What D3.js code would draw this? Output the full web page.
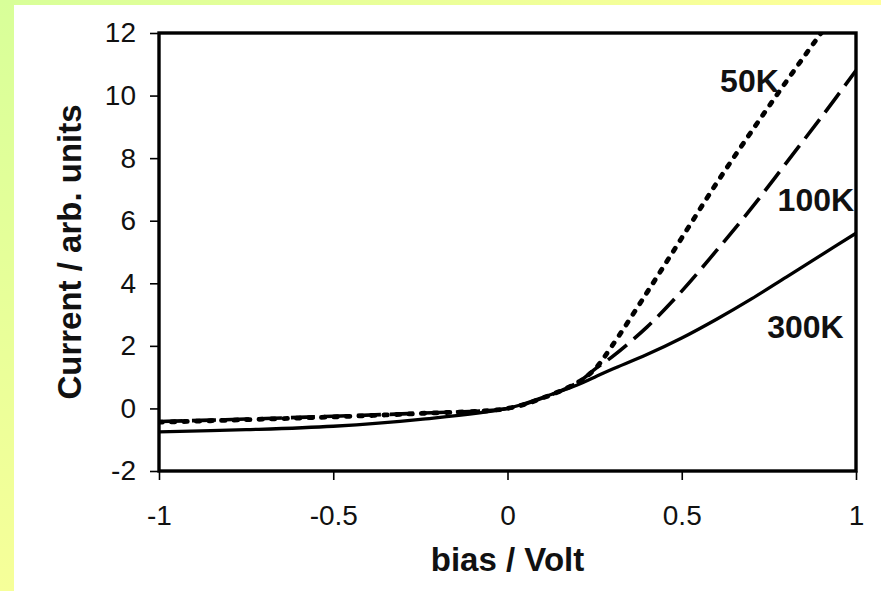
<!DOCTYPE html>
<html>
<head>
<meta charset="utf-8">
<script src="https://cdn.jsdelivr.net/npm/d3@7"></script>
<style>
  html, body { margin: 0; padding: 0; background: #fff; }
  #chart { width: 881px; height: 591px; }
</style>
</head>
<body>
<div id="chart"></div>
<script>
// bias values (Volt)
var bias = [-1, -0.75, -0.5, -0.25, 0, 0.1, 0.2, 0.25, 0.3, 0.4, 0.5, 0.6, 0.7, 0.8, 0.9, 1.0];
// current, arb. units
var i300K = [-0.75, -0.68, -0.57, -0.35, 0, 0.35, 0.75, 1.0, 1.25, 1.72, 2.25, 2.85, 3.5, 4.2, 4.9, 5.6];
var i100K = [-0.42, -0.34, -0.25, -0.15, 0, 0.33, 0.82, 1.25, 1.65, 2.6, 3.75, 5.05, 6.4, 7.85, 9.3, 10.8];
var i50K  = [-0.44, -0.36, -0.27, -0.16, 0, 0.33, 0.82, 1.25, 2.0, 3.7, 5.45, 7.2, 8.85, 10.45, 12.0, 13.5];

var xTicks = [-1, -0.5, 0, 0.5, 1];
var yTicks = [-2, 0, 2, 4, 6, 8, 10, 12];

var series = [
    {name: "50K", values: i50K, dash: "3.5,9", width: 4.8, cap: "round", label: [0.61, 10.1]},
    {name: "100K", values: i100K, dash: "24,9", width: 3.6, cap: "butt", label: [0.775, 6.3]},
    {name: "300K", values: i300K, dash: null, width: 3.3, cap: "butt", label: [0.745, 2.25]}
];

var width = 881, height = 591;
var margin = {left: 159, right: 25, top: 33, bottom: 120};

var svg = d3.select("#chart").append("svg")
    .attr("width", width)
    .attr("height", height);

// yellow-green frame on top and left
var defs = svg.append("defs");
var gTop = defs.append("linearGradient").attr("id", "gTop").attr("x1", "0").attr("x2", "1").attr("y1", "0").attr("y2", "0");
gTop.append("stop").attr("offset", "0").attr("stop-color", "#d8ff99");
gTop.append("stop").attr("offset", "1").attr("stop-color", "#ffff99");
var gLeft = defs.append("linearGradient").attr("id", "gLeft").attr("x1", "0").attr("x2", "0").attr("y1", "0").attr("y2", "1");
gLeft.append("stop").attr("offset", "0").attr("stop-color", "#d8ff99");
gLeft.append("stop").attr("offset", "1").attr("stop-color", "#f6ff99");
svg.append("rect").attr("x", 0).attr("y", 0).attr("width", width).attr("height", 5).attr("fill", "url(#gTop)");
svg.append("rect").attr("x", 0).attr("y", 0).attr("width", 14).attr("height", height).attr("fill", "url(#gLeft)");

var x = d3.scaleLinear().domain([-1, 1]).range([margin.left, width - margin.right]);
var y = d3.scaleLinear().domain([-2, 12]).range([height - margin.bottom, margin.top]);

defs.append("clipPath").attr("id", "plotClip")
    .append("rect")
    .attr("x", x(-1)).attr("y", y(12))
    .attr("width", x(1) - x(-1)).attr("height", y(-2) - y(12));

var line = d3.line()
    .x(function(d) { return x(d[0]); })
    .y(function(d) { return y(d[1]); })
    .curve(d3.curveCatmullRom.alpha(0.5));

var plot = svg.append("g").attr("clip-path", "url(#plotClip)");
series.forEach(function(s) {
    plot.append("path")
        .datum(bias.map(function(b, i) { return [b, s.values[i]]; }))
        .attr("fill", "none")
        .attr("stroke", "#000")
        .attr("stroke-width", s.width)
        .attr("stroke-linecap", s.cap)
        .attr("stroke-dasharray", s.dash)
        .attr("d", line);
});

var font = "'Liberation Sans', Arial, sans-serif";
var fmt = function(d) { return String(d); };

var xAxis = svg.append("g")
    .attr("transform", "translate(0," + y(-2) + ")")
    .call(d3.axisBottom(x).tickValues(xTicks).tickSize(9).tickPadding(25).tickFormat(fmt));
var yAxis = svg.append("g")
    .attr("transform", "translate(" + x(-1) + ",0)")
    .call(d3.axisLeft(y).tickValues(yTicks).tickSize(9).tickPadding(14).tickFormat(fmt));

[xAxis, yAxis].forEach(function(a) {
    a.select(".domain").remove();
    a.selectAll(".tick line").attr("stroke", "#000").attr("stroke-width", 1.6);
    a.selectAll(".tick text")
        .attr("fill", "#111")
        .style("font-family", font)
        .style("font-size", "28px");
});

// plot frame
svg.append("rect")
    .attr("x", x(-1)).attr("y", y(12))
    .attr("width", x(1) - x(-1)).attr("height", y(-2) - y(12))
    .attr("fill", "none")
    .attr("stroke", "#000")
    .attr("stroke-width", 3.4);

// curve labels
series.forEach(function(s) {
    svg.append("text")
        .attr("x", x(s.label[0]))
        .attr("y", y(s.label[1]))
        .style("font-family", font)
        .style("font-size", "32px")
        .style("font-weight", "bold")
        .attr("fill", "#111")
        .text(s.name);
});

svg.append("text")
    .attr("x", (x(-1) + x(1)) / 2)
    .attr("y", 571)
    .attr("text-anchor", "middle")
    .style("font-family", font)
    .style("font-size", "33px")
    .style("font-weight", "bold")
    .attr("fill", "#111")
    .text("bias / Volt");

svg.append("text")
    .attr("transform", "translate(81," + (y(-2) + y(12)) / 2 + ") rotate(-90)")
    .attr("text-anchor", "middle")
    .style("font-family", font)
    .style("font-size", "33px")
    .style("font-weight", "bold")
    .attr("fill", "#111")
    .text("Current / arb. units");
</script>
</body>
</html>
